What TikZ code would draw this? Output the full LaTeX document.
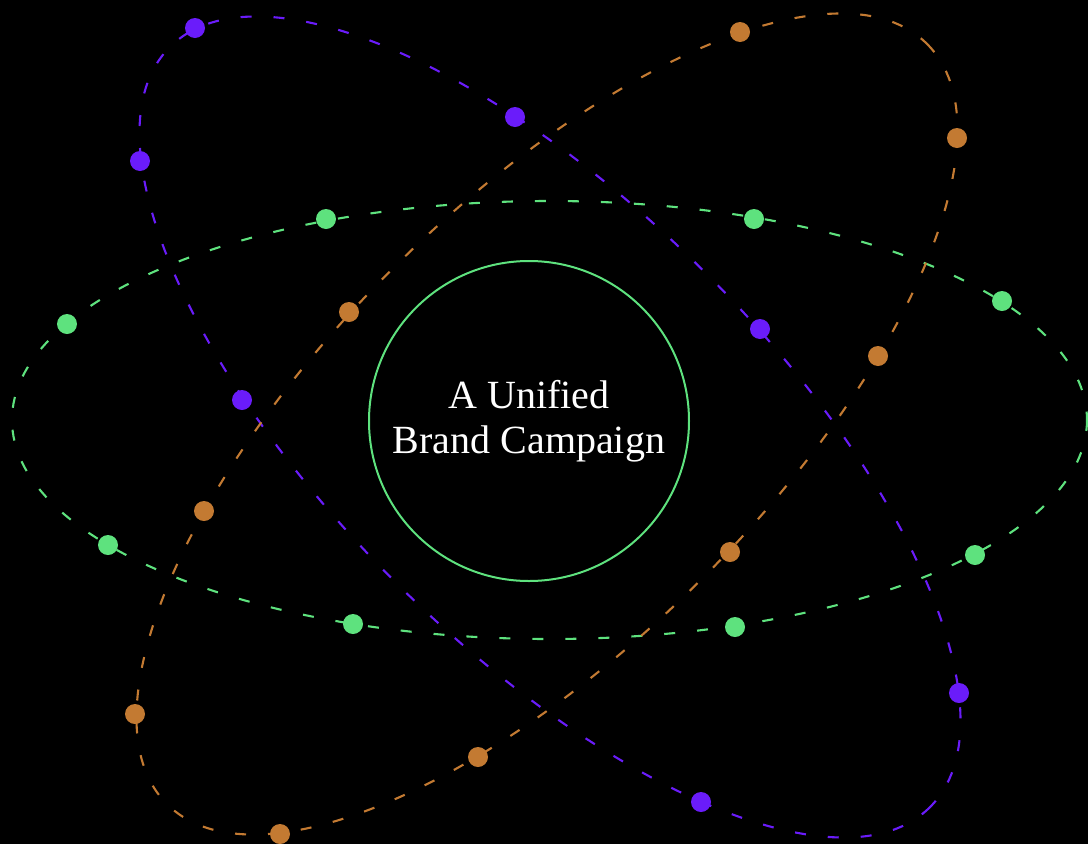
\documentclass[tikz,border=0pt]{standalone}
\usepackage{fontspec}
\setmainfont{Liberation Serif}
\definecolor{cgreen}{HTML}{5EE27E}
\definecolor{cpurple}{HTML}{6A1CFA}
\definecolor{corange}{HTML}{C37A32}
\begin{document}
\begin{tikzpicture}[x=1pt,y=-1pt,
  orbit/.style={line width=2.1pt,dash pattern=on 11pt off 22pt},
  gdot/.style={circle,fill=cgreen,minimum size=20pt,inner sep=0pt},
  pdot/.style={circle,fill=cpurple,minimum size=20pt,inner sep=0pt},
  odot/.style={circle,fill=corange,minimum size=20pt,inner sep=0pt},
  hub/.style={circle,draw=cgreen,line width=2pt,minimum size=320pt,inner sep=0pt,
    text=white,align=center,font=\fontsize{40}{45}\selectfont}]
\fill[black] (0,0) rectangle (1088,844);
\useasboundingbox (0,0) rectangle (1088,844);
% orbits
\draw[orbit,cgreen] (549.5,420) ellipse [x radius=537.5,y radius=219];
\draw[orbit,cpurple,rotate around={-45:(550,427)}] (550,427) ellipse [x radius=537.5,y radius=219];
\draw[orbit,corange,rotate around={45:(547,424)}] (547,424) ellipse [x radius=537.5,y radius=219];
% centre
\node[hub] (hub) at (529,421) {A Unified\\Brand Campaign};
% purple dots
\node[pdot] (p1) at (195,28) {};
\node[pdot] (p2) at (140,161) {};
\node[pdot] (p3) at (242,400) {};
\node[pdot] (p4) at (515,117) {};
\node[pdot] (p5) at (760,329) {};
\node[pdot] (p6) at (959,693) {};
\node[pdot] (p7) at (701,802) {};
% orange dots
\node[odot] (o1) at (740,32) {};
\node[odot] (o2) at (957,138) {};
\node[odot] (o3) at (349,312) {};
\node[odot] (o4) at (878,356) {};
\node[odot] (o5) at (204,511) {};
\node[odot] (o6) at (730,552) {};
\node[odot] (o7) at (135,714) {};
\node[odot] (o8) at (478,757) {};
\node[odot] (o9) at (280,834) {};
% green dots
\node[gdot] (g1) at (326,219) {};
\node[gdot] (g2) at (754,219) {};
\node[gdot] (g3) at (67,324) {};
\node[gdot] (g4) at (1002,301) {};
\node[gdot] (g5) at (108,545) {};
\node[gdot] (g6) at (975,555) {};
\node[gdot] (g7) at (353,624) {};
\node[gdot] (g8) at (735,627) {};
\end{tikzpicture}
\end{document}
